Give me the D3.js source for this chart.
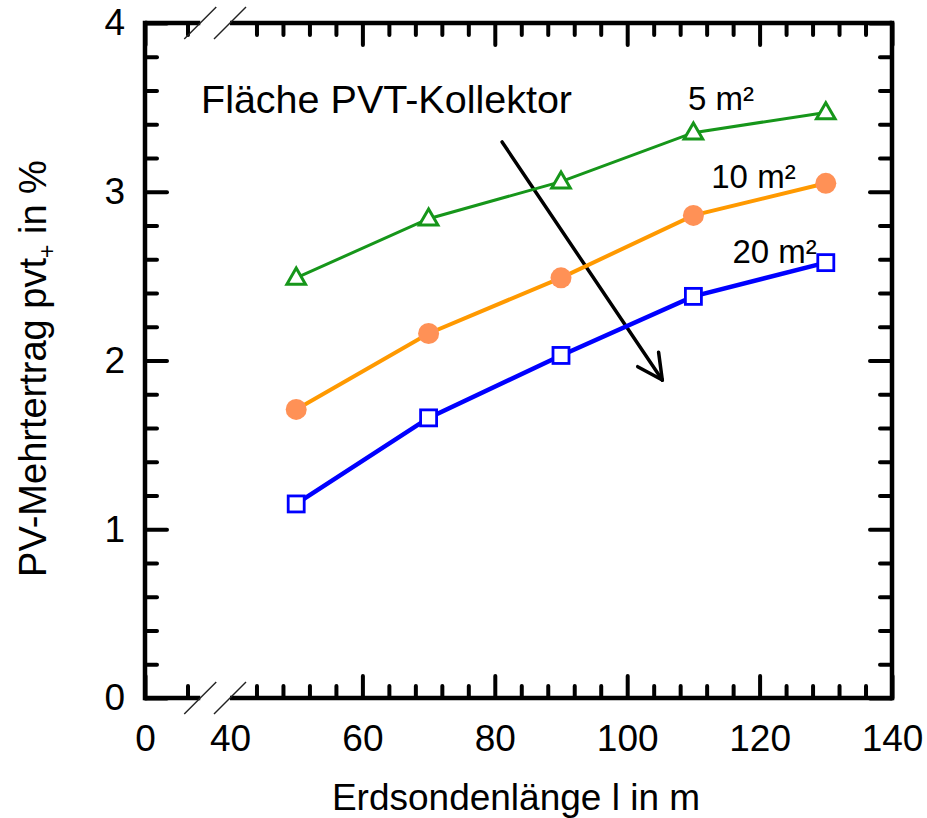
<!DOCTYPE html>
<html><head><meta charset="utf-8">
<script src="https://cdn.jsdelivr.net/npm/d3@7"></script>
<style>body{margin:0;background:#fff} text{font-family:"Liberation Sans",Arial,Helvetica,sans-serif;fill:#000}</style>
</head><body><svg id="c" width="927" height="818"></svg>
<script>
// ---- data ----
const xValues = [50, 70, 90, 110, 130];
const series5 = [2.49, 2.84, 3.06, 3.35, 3.47];
const series10 = [1.71, 2.16, 2.49, 2.86, 3.05];
const series20 = [1.15, 1.66, 2.03, 2.38, 2.58];
const seriesNames = ["5 m²", "10 m²", "20 m²"];
const xTickLabels = [0, 40, 60, 80, 100, 120, 140];
const xMajorTicks = [0, 60, 80, 100, 120, 140];
const xMinorTicks = [20, 44, 48, 52, 56, 64, 68, 72, 76, 84, 88, 92, 96, 104, 108, 112, 116, 124, 128, 132, 136];
const yTickLabels = [0, 1, 2, 3, 4];
const yMinorTicks = [0.2,0.4,0.6,0.8,1.2,1.4,1.6,1.8,2.2,2.4,2.6,2.8,3.2,3.4,3.6,3.8];
const xBreak = [26, 40];

const svg = d3.select("#c");
const L = 145, R = 892, T = 23, B = 698;
const x = d3.scaleLinear().domain([0, 40, 140]).range([L, 230, R]);
const y = d3.scaleLinear().domain([0, 4]).range([B, T]);

const green = "#16961a", orange = "#ff9900", orangeFill = "#ff9156", blue = "#0000ff";

// ---- arrow (annotation) ----
const arrowStart = [81.1, 3.295], arrowEnd = [105.3, 1.884];
const ax0 = x(arrowStart[0]), ay0 = y(arrowStart[1]), ax1 = x(arrowEnd[0]), ay1 = y(arrowEnd[1]);
svg.append("line").attr("x1", ax0).attr("y1", ay0).attr("x2", ax1).attr("y2", ay1)
  .attr("stroke", "#000").attr("stroke-width", 3.5).attr("stroke-linecap", "round");
const ang = Math.atan2(ay0 - ay1, ax0 - ax1);
[-0.48, 0.46].forEach(d => {
  svg.append("line").attr("x1", ax1).attr("y1", ay1)
    .attr("x2", ax1 + 28 * Math.cos(ang + d)).attr("y2", ay1 + 28 * Math.sin(ang + d))
    .attr("stroke", "#000").attr("stroke-width", 3.5).attr("stroke-linecap", "round");
});

// ---- series ----
const line = d3.line().x((d, i) => x(xValues[i])).y(d => y(d));
svg.append("path").datum(series5).attr("d", line).attr("fill", "none").attr("stroke", green).attr("stroke-width", 3);
svg.append("path").datum(series10).attr("d", line).attr("fill", "none").attr("stroke", orange).attr("stroke-width", 4);
svg.append("path").datum(series20).attr("d", line).attr("fill", "none").attr("stroke", blue).attr("stroke-width", 4.5);

const tri = d3.symbol().type(d3.symbolTriangle).size(150);
svg.selectAll(".tri").data(series5).join("path")
  .attr("transform", (d, i) => `translate(${x(xValues[i])},${y(d) + 1})`)
  .attr("d", tri).attr("fill", "#fff").attr("stroke", green).attr("stroke-width", 3);
svg.selectAll(".circ").data(series10).join("circle")
  .attr("cx", (d, i) => x(xValues[i])).attr("cy", d => y(d)).attr("r", 10.5).attr("fill", orangeFill);
svg.selectAll(".sq").data(series20).join("rect")
  .attr("x", (d, i) => x(xValues[i]) - 8).attr("y", d => y(d) - 8).attr("width", 16).attr("height", 16)
  .attr("fill", "#fff").attr("stroke", blue).attr("stroke-width", 2.8);

// ---- axes ticks ----
function styleAxis(g) {
  g.select(".domain").remove();
  g.selectAll(".tick line").attr("stroke", "#000").attr("stroke-width", 4).attr("stroke-linecap", "round");
}
const fontTick = "37px";
// bottom major (with labels)
const gb = svg.append("g").attr("transform", `translate(0,${B})`)
  .call(d3.axisBottom(x).tickValues(xTickLabels).tickSize(-22).tickPadding(27).tickFormat(d3.format("d")));
styleAxis(gb);
gb.selectAll(".tick").filter(d => d === 40).select("line").remove();
gb.selectAll("text").style("font-size", fontTick).attr("fill", "#000");
svg.append("g").attr("transform", `translate(0,${B})`)
  .call(d3.axisBottom(x).tickValues(xMinorTicks).tickSize(-12).tickFormat("")).call(styleAxis);
// top
svg.append("g").attr("transform", `translate(0,${T})`)
  .call(d3.axisTop(x).tickValues(xMajorTicks).tickSize(-22).tickFormat("")).call(styleAxis);
svg.append("g").attr("transform", `translate(0,${T})`)
  .call(d3.axisTop(x).tickValues(xMinorTicks).tickSize(-12).tickFormat("")).call(styleAxis);
// left
const gl = svg.append("g").attr("transform", `translate(${L},0)`)
  .call(d3.axisLeft(y).tickValues(yTickLabels).tickSize(-22).tickPadding(20).tickFormat(d3.format("d")));
styleAxis(gl);
gl.selectAll("text").style("font-size", fontTick).attr("fill", "#000");
svg.append("g").attr("transform", `translate(${L},0)`)
  .call(d3.axisLeft(y).tickValues(yMinorTicks).tickSize(-12).tickFormat("")).call(styleAxis);
// right
svg.append("g").attr("transform", `translate(${R},0)`)
  .call(d3.axisRight(y).tickValues(yTickLabels).tickSize(-22).tickFormat("")).call(styleAxis);
svg.append("g").attr("transform", `translate(${R},0)`)
  .call(d3.axisRight(y).tickValues(yMinorTicks).tickSize(-12).tickFormat("")).call(styleAxis);

// ---- frame with break ----
const frame = svg.append("g").attr("stroke", "#000").attr("stroke-width", 4.5).attr("fill", "none").attr("stroke-linecap", "square");
frame.append("line").attr("x1", L).attr("y1", T).attr("x2", L).attr("y2", B);
frame.append("line").attr("x1", R).attr("y1", T).attr("x2", R).attr("y2", B);
[T, B].forEach(yy => {
  frame.append("line").attr("x1", L).attr("y1", yy).attr("x2", x(xBreak[0])).attr("y2", yy).attr("stroke-linecap", "butt");
  frame.append("line").attr("x1", x(xBreak[1])).attr("y1", yy).attr("x2", R).attr("y2", yy).attr("stroke-linecap", "butt");
  xBreak.forEach(v => {
    svg.append("line").attr("x1", x(v) - 16).attr("y1", yy + 16).attr("x2", x(v) + 16).attr("y2", yy - 16)
      .attr("stroke", "#222").attr("stroke-width", 1.5);
  });
});

// ---- texts ----
svg.append("text").attr("x", 516).attr("y", 810).attr("text-anchor", "middle")
  .style("font-size", "37px").text("Erdsondenlänge l in m");
const yl = svg.append("text").attr("transform", `translate(46,${(583 + 146) / 2 + 4}) rotate(-90)`)
  .attr("text-anchor", "middle").style("font-size", "38px");
yl.append("tspan").text("PV-Mehrtertrag pvt");
yl.append("tspan").text("+").style("font-size", "23px").attr("dy", 9);
yl.append("tspan").text(" in %").attr("dy", -9);

svg.append("text").attr("x", 201).attr("y", 113).style("font-size", "39.5px").text("Fläche PVT-Kollektor");
const labelPos = [[109.2, 3.484], [112.7, 3.02], [115.9, 2.58]];
seriesNames.forEach((n, i) => {
  svg.append("text").attr("x", x(labelPos[i][0])).attr("y", y(labelPos[i][1]))
    .style("font-size", "33px").text(n);
});
</script></body></html>
